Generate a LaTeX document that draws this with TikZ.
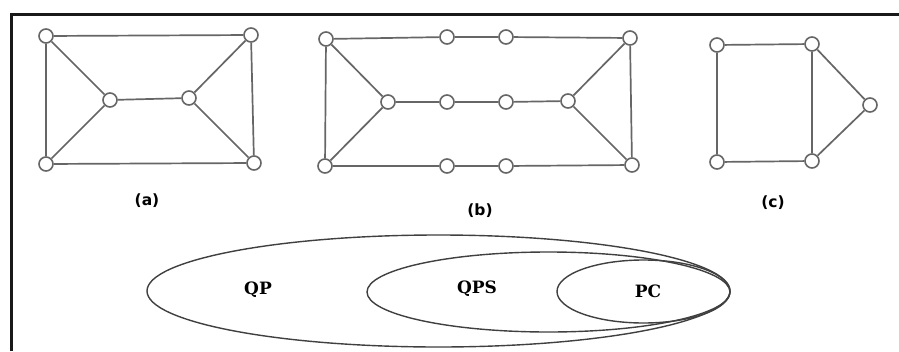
\documentclass[tikz,border=0pt]{standalone}
\usepackage{fontspec}
\setmainfont{DejaVu Serif}
\newfontfamily\labfont{DejaVu Sans}
\begin{document}
\begin{tikzpicture}[x=1pt,y=-1pt,
  vtx/.style={circle,draw=black!60,fill=white,line width=1.6pt,minimum size=14pt,inner sep=0pt},
  edge/.style={draw=black!60,line width=1.7pt},
  caplab/.style={font=\labfont\bfseries\fontsize{15.5}{15.5}\selectfont},
  setring/.style={draw=black!75,line width=1.4pt},
  setlab/.style={font=\bfseries\fontsize{17}{17}\selectfont}]
\useasboundingbox (0,0) rectangle (899,351);
\fill[white] (0,0) rectangle (899,351);
% frame
\draw[line width=3pt,black!90] (11.5,351) -- (11.5,14.5) -- (899,14.5);
% graph (a)
\node[vtx] (a1) at (46,36) {};
\node[vtx] (a2) at (251,35) {};
\node[vtx] (a3) at (110,100) {};
\node[vtx] (a4) at (189,98) {};
\node[vtx] (a5) at (46,164) {};
\node[vtx] (a6) at (254,163) {};
\path[edge] (a1) -- (a2) (a1) -- (a5) (a1) -- (a3) (a2) -- (a4) (a2) -- (a6)
  (a3) -- (a4) (a3) -- (a5) (a4) -- (a6) (a5) -- (a6);
\node[caplab] (la) at (147,201) {(a)};
% graph (b)
\node[vtx] (b1) at (326,39) {};
\node[vtx] (b2) at (447,37) {};
\node[vtx] (b3) at (506,37) {};
\node[vtx] (b4) at (630,38) {};
\node[vtx] (b5) at (388,102) {};
\node[vtx] (b6) at (447,102) {};
\node[vtx] (b7) at (506,102) {};
\node[vtx] (b8) at (568,101) {};
\node[vtx] (b9) at (325,166) {};
\node[vtx] (b10) at (447,166) {};
\node[vtx] (b11) at (506,166) {};
\node[vtx] (b12) at (632,165) {};
\path[edge] (b1) -- (b2) (b2) -- (b3) (b3) -- (b4) (b1) -- (b9) (b4) -- (b12)
  (b1) -- (b5) (b9) -- (b5) (b4) -- (b8) (b12) -- (b8)
  (b5) -- (b6) (b6) -- (b7) (b7) -- (b8)
  (b9) -- (b10) (b10) -- (b11) (b11) -- (b12);
\node[caplab] (lb) at (480,211) {(b)};
% graph (c)
\node[vtx] (c1) at (717,45) {};
\node[vtx] (c2) at (812,44) {};
\node[vtx] (c3) at (870,105) {};
\node[vtx] (c4) at (717,162) {};
\node[vtx] (c5) at (812,161) {};
\path[edge] (c1) -- (c2) (c1) -- (c4) (c2) -- (c5) (c4) -- (c5) (c2) -- (c3) (c5) -- (c3);
\node[caplab] (lc) at (773,203) {(c)};
% sets
\draw[setring] (438.5,291) ellipse [x radius=291.5, y radius=56];
\draw[setring] (548.5,292) ellipse [x radius=181.5, y radius=40];
\draw[setring] (643.5,291.5) ellipse [x radius=86.5, y radius=31.5];
\node[setlab] (qp) at (258,290) {QP};
\node[setlab] (qps) at (477,289) {QPS};
\node[setlab] (pc) at (648,291) {PC};
\end{tikzpicture}
\end{document}
